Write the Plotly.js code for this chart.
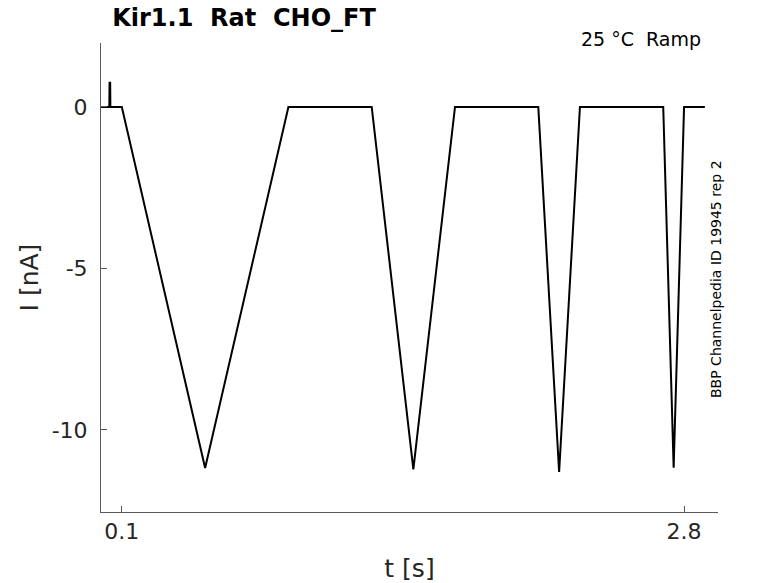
<!DOCTYPE html>
<html>
<head>
<meta charset="utf-8">
<script src="https://cdn.plot.ly/plotly-3.0.1.min.js"></script>
<style>html,body{margin:0;padding:0;background:#fff;}#chart{width:778px;height:583px;}</style>
</head>
<body>
<div id="chart"></div>
<script>
// Breakpoints of the recorded current trace (time in s, current in nA)
const timeS = [0.000, 0.040, 0.041, 0.044, 0.045, 0.100, 0.500, 0.900, 1.300, 1.500, 1.700, 2.100, 2.200, 2.300, 2.700, 2.750, 2.800, 2.900];
const currentNA = [0.00, 0.00, 0.75, 0.75, 0.00, 0.00, -11.18, 0.00, 0.00, -11.22, 0.00, 0.00, -11.30, 0.00, 0.00, -11.17, 0.00, 0.00];
const xTickVals = [0.1, 2.8];
const xTickText = ["0.1", "2.8"];
const yTickVals = [0, -5, -10];
const yTickText = ["0", "-5", "-10"];

const trace = {
  x: timeS, y: currentNA, type: 'scatter', mode: 'lines',
  line: {color: '#000000', width: 2}, hoverinfo: 'skip'
};

const font = "DejaVu Sans, sans-serif";
const layout = {
  width: 778, height: 583,
  margin: {l: 101, r: 60, t: 43, b: 71},
  paper_bgcolor: '#ffffff', plot_bgcolor: '#ffffff',
  showlegend: false,
  font: {family: font, color: '#262626'},
  title: {
    text: '<b>Kir1.1  Rat  CHO_FT</b>',
    font: {family: font, size: 24, color: '#000000'},
    xref: 'container', yref: 'container',
    x: 244/778, xanchor: 'center', y: 1 - 18/583, yanchor: 'middle'
  },
  xaxis: {
    range: [0, 2.963], showgrid: false, zeroline: false,
    showline: true, linecolor: '#5a5a5a', linewidth: 1,
    ticks: 'inside', ticklen: 6, tickcolor: '#5a5a5a',
    tickvals: xTickVals, ticktext: xTickText,
    tickfont: {family: font, size: 22, color: '#262626'},
    title: {text: 't [s]', font: {family: font, size: 25, color: '#262626'}, standoff: 16}
  },
  yaxis: {
    range: [-12.54, 1.98], showgrid: false, zeroline: false,
    showline: true, linecolor: '#5a5a5a', linewidth: 1,
    ticks: 'inside', ticklen: 6, tickcolor: '#5a5a5a',
    tickvals: yTickVals, ticktext: yTickText,
    tickfont: {family: font, size: 22, color: '#262626'},
    ticklabelstandoff: 8,
    title: {text: 'I [nA]', font: {family: font, size: 25, color: '#262626'}, standoff: 5}
  },
  annotations: [
    {text: '25 °C  Ramp', xref: 'paper', yref: 'paper', x: (703-101)/617, y: 1 - (39-43)/469, xanchor: 'right', yanchor: 'middle',
     showarrow: false, font: {family: font, size: 19, color: '#000000'}},
    {text: 'BBP Channelpedia ID 19945 rep 2', xref: 'paper', yref: 'paper', x: (716-101)/617, y: 1 - (279-43)/469,
     xanchor: 'center', yanchor: 'middle', textangle: -90,
     showarrow: false, font: {family: font, size: 14, color: '#000000'}}
  ]
};

Plotly.newPlot('chart', [trace], layout, {staticPlot: true, displayModeBar: false});
</script>
</body>
</html>
